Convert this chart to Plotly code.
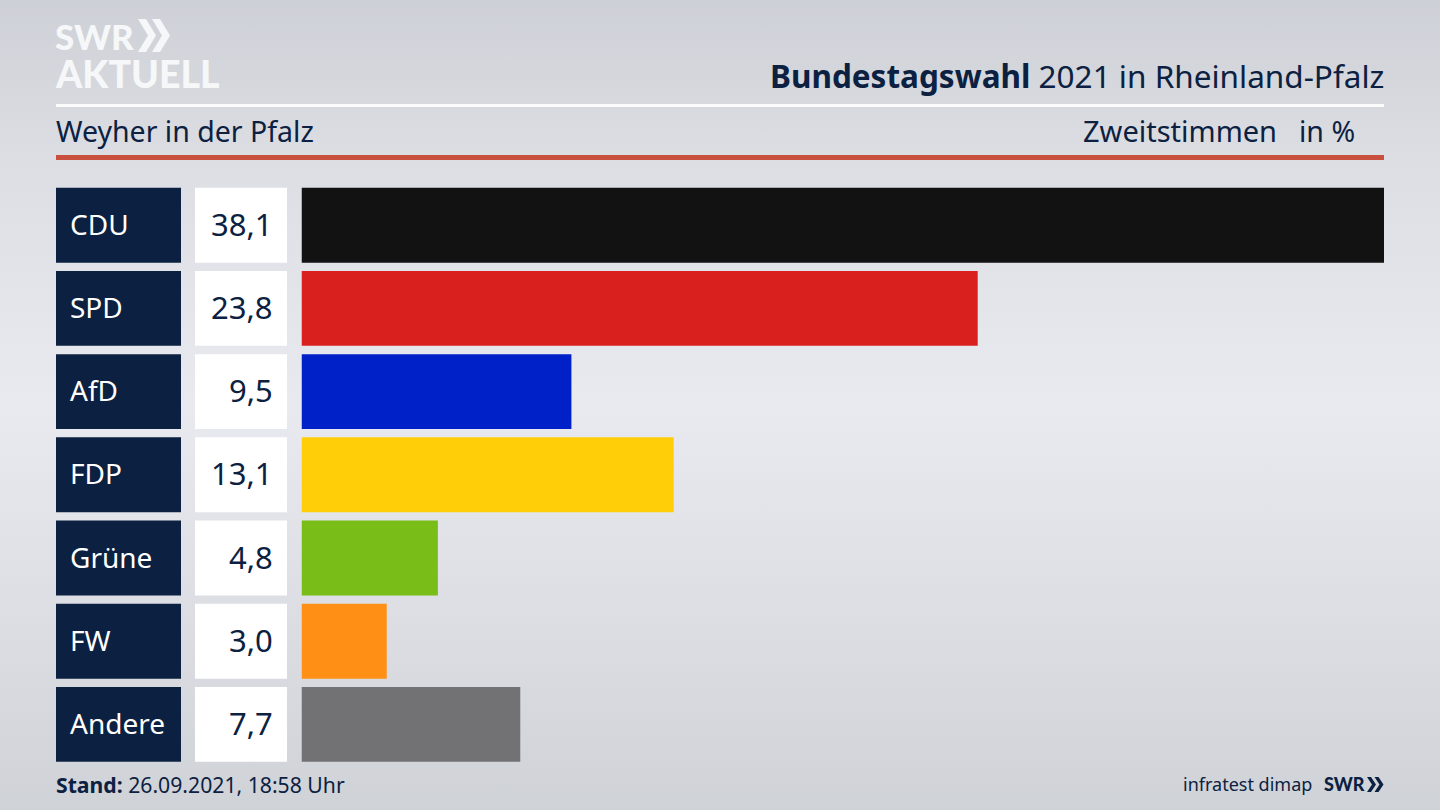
import base64
import plotly.graph_objects as go

parties = ["CDU", "SPD", "AfD", "FDP", "Grüne", "FW", "Andere"]
shares = [38.1, 23.8, 9.5, 13.1, 4.8, 3.0, 7.7]
colors = ["#121212", "#da1f1f", "#0020c8", "#ffce08", "#79bd18", "#ff9015", "#727274"]
NAVY = "#0c2141"
W, H = 1440, 810
FONT = "Noto Sans"

svg = f"""<svg xmlns='http://www.w3.org/2000/svg' width='{W}' height='{H}'>
<defs><linearGradient id='a' x1='0' y1='0' x2='0' y2='1'>
<stop offset='0' stop-color='#cdd0d6'/><stop offset='0.2' stop-color='#dcdee3'/>
<stop offset='0.5' stop-color='#e9eaef'/><stop offset='0.8' stop-color='#dadce1'/>
<stop offset='1' stop-color='#cfd2d7'/></linearGradient></defs>
<rect width='{W}' height='{H}' fill='url(#a)'/></svg>"""
bg = "data:image/svg+xml;base64," + base64.b64encode(svg.encode()).decode()

def px(x): return x / W
def py(y): return 1 - y / H

fig = go.Figure()
fig.add_bar(x=shares, y=parties, orientation="h", marker=dict(color=colors, line_width=0),
            xaxis="x", yaxis="y", hoverinfo="x+y", name="Zweitstimmen")
fig.add_bar(x=[1] * len(parties), y=parties, orientation="h", marker=dict(color=NAVY, line_width=0),
            xaxis="x2", yaxis="y", hoverinfo="skip", name="Partei")
fig.add_bar(x=[1] * len(parties), y=parties, orientation="h", marker=dict(color="#ffffff", line_width=0),
            xaxis="x3", yaxis="y", hoverinfo="skip", name="Wert")

ann = []
def text(x, y, s, size, color=NAVY, anchor="left", family=FONT, weight=None, height=None):
    f = dict(family=family, size=size, color=color)
    if weight:
        f["weight"] = weight
    a = dict(x=px(x), y=py(y), xref="paper", yref="paper", text=s, showarrow=False,
             xanchor=anchor, yanchor="middle", align=anchor, font=f, borderpad=0, borderwidth=0)
    if height:
        a["height"] = height
    ann.append(a)

for p, v in zip(parties, shares):
    ann.append(dict(x=0, y=p, xref="x2", yref="y", text=p, showarrow=False, xanchor="left", xshift=12,
                    yshift=1.5, font=dict(family=FONT, size=28, color="#ffffff")))
    ann.append(dict(x=1, y=p, xref="x3", yref="y", text=f"{v:.1f}".replace(".", ","), showarrow=False,
                    xanchor="right", xshift=-12, yshift=1.5, font=dict(family=FONT, size=31, color=NAVY)))

text(1384, 75.5, "<b>Bundestagswahl</b> 2021 in Rheinland-Pfalz", 31.5, anchor="right")
text(56, 130.5, "Weyher in der Pfalz", 28.5)
text(1277, 130.5, "Zweitstimmen", 29, anchor="right")
text(1355, 130.5, "in %", 28.5, anchor="right")
text(56, 784, "<b>Stand:</b> 26.09.2021, 18:58 Uhr", 21.2)
text(1312, 784, "infratest dimap", 18, anchor="right")
text(1324, 784, "SWR", 18, family="Lato", weight=900)
text(55, 35.5, "SWR", 35, color="#f6f7f8", family="Lato", weight=900, height=32)
text(55, 73, "AKTUELL", 37.5, color="#f6f7f8", family="Lato", weight=900, height=32)

def rect(x0, y0, x1, y1, c):
    return dict(type="rect", xref="paper", yref="paper", x0=px(x0), x1=px(x1), y0=py(y0), y1=py(y1),
                fillcolor=c, line_width=0, layer="above")

def chevron(x, y, w, h, t, c):
    pts = [(x, y), (x + t, y), (x + w, y + h / 2), (x + t, y + h), (x, y + h), (x + w - t, y + h / 2)]
    path = "M" + " L".join(f"{px(a):.6f},{py(b):.6f}" for a, b in pts) + " Z"
    return dict(type="path", xref="paper", yref="paper", path=path, fillcolor=c, line_width=0, layer="above")

shapes = [rect(56, 104, 1384, 107, "#fbfbfc"), rect(56, 155, 1384, 160, "#c9503f"),
          chevron(138, 19, 18, 33, 8, "#f6f7f8"), chevron(152, 19, 18, 33, 8, "#f6f7f8"),
          chevron(1367, 777, 9, 15, 4, NAVY), chevron(1374.5, 777, 9, 15, 4, NAVY)]

hidden = dict(visible=False, fixedrange=True)
fig.update_layout(
    width=W, height=H, margin=dict(l=0, r=0, t=0, b=0), autosize=False,
    paper_bgcolor="rgba(0,0,0,0)", plot_bgcolor="rgba(0,0,0,0)", showlegend=False,
    barmode="overlay", bargap=0.1,
    xaxis=dict(domain=[px(301.5), px(1384)], range=[0, max(shares)], anchor="y", **hidden),
    xaxis2=dict(domain=[px(56), px(181)], range=[0, 1], anchor="y", **hidden),
    xaxis3=dict(domain=[px(195), px(287)], range=[0, 1], anchor="y", **hidden),
    yaxis=dict(domain=[py(766), py(183.6)], type="category", categoryorder="array",
               categoryarray=parties, autorange="reversed", **hidden),
    annotations=ann, shapes=shapes,
    images=[dict(source=bg, xref="paper", yref="paper", x=0, y=1, sizex=1, sizey=1,
                 xanchor="left", yanchor="top", sizing="stretch", layer="below")],
)
fig.write_html("out.html", config=dict(displayModeBar=False),
               post_script="document.body.style.margin='0';document.body.style.overflow='hidden';")
